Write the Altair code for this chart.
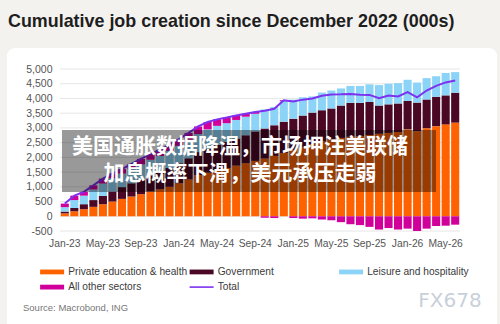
import altair as alt
import pandas as pd

FONT = "Liberation Sans"
CJK = "Noto Sans CJK SC"

# Monthly categories, Jan-23 .. Jun-26
months = [d.strftime("%b-%y") for d in pd.date_range("2023-01-01", periods=42, freq="MS")]
tick_months = months[::4]

# Cumulative change since Dec-2022, thousands
edu = [100, 170, 240, 320, 410, 500, 590, 670, 750, 840, 920, 1000, 1120, 1250,
       1400, 1480, 1560, 1640, 1720, 1800, 1880, 1960, 2050, 2150, 2250, 2350, 2450, 2540,
       2610, 2660, 2700, 2720, 2760, 2800, 2830, 2860, 2950, 2890, 2990, 3060, 3120, 3180]
gov = [60, 110, 170, 230, 280, 340, 400, 450, 500, 550, 600, 640, 680, 720,
       780, 820, 860, 890, 920, 950, 1000, 1020, 1040, 1060, 1060, 1070, 1070, 1060,
       1050, 1100, 1150, 1130, 1120, 960, 970, 970, 965, 970, 975, 995, 985, 1015]
leisure = [150, 270, 290, 360, 420, 450, 460, 490, 510, 530, 530, 580, 590, 630,
           610, 650, 650, 630, 630, 630, 600, 650, 620, 700, 650, 620, 550, 600,
           610, 580, 575, 575, 600, 695, 700, 690, 720, 680, 725, 700, 760, 700]
other = [120, 150, 130, 140, 170, 160, 150, 170, 190, 200, 200, 210, 230, 230,
         260, 250, 220, 190, 150, 100, 60, -50, -60, 30, -60, -80, -70, -110,
         -135, -200, -270, -300, -360, -450, -400, -450, -420, -500, -420, -330, -320, -285]
total = [430, 700, 830, 1050, 1280, 1450, 1600, 1780, 1950, 2120, 2250, 2430, 2620, 2830,
         3050, 3200, 3290, 3350, 3420, 3480, 3540, 3580, 3650, 3940, 3900, 3960, 4000, 4090,
         4135, 4140, 4155, 4125, 4120, 4005, 4100, 4070, 4215, 4040, 4270, 4425, 4545, 4610]

series = ["Private education & health", "Government", "Leisure and hospitality",
          "All other sectors", "Total"]
colors = ["#ff6200", "#4b0824", "#8cd4f7", "#d2009b", "#7d32f0"]
swatches = ["M-3,-0.6H3V0.6H-3Z"] * 4 + ["M-3,-0.2H3V0.2H-3Z"]
y_ticks = list(range(-500, 5001, 500))

title_text = "Cumulative job creation since December 2022 (000s)"
banner_lines = ["美国通胀数据降温，市场押注美联储", "加息概率下滑，美元承压走弱"]
source_text = "Source: Macrobond, ING"
mark_text = "FX678"

bar_df = pd.concat([
    pd.DataFrame({"month": months, "series": s, "value": v, "rank": i})
    for i, (s, v) in enumerate(zip(series[:4], [edu, gov, leisure, other]))
])
line_df = pd.DataFrame({"month": months, "series": series[4], "value": total})
grid_df = pd.DataFrame({"value": y_ticks})

color_scale = alt.Scale(domain=series, range=colors)
legend = alt.Legend(title=None, orient="none", legendX=-13, legendY=197.5, columns=3,
                    direction="horizontal", gridAlign="all", columnPadding=1.5, rowPadding=4.5,
                    padding=0, symbolSize=64, symbolStrokeWidth=0, symbolOpacity=1,
                    labelOffset=11, labelFont=FONT, labelFontSize=10.2, labelColor="#3a3a3a")

x_enc = alt.X("month:O", sort=months,
              scale=alt.Scale(domain=months, paddingInner=0.15, paddingOuter=0.08),
              axis=alt.Axis(values=tick_months, labelAngle=0, title=None, domain=False,
                            ticks=False, labelPadding=7, labelFont=FONT, labelFontSize=10.3,
                            labelColor="#555555", zindex=1))
y_axis = alt.Axis(values=y_ticks, grid=False, domain=False, ticks=False,
                  labelPadding=8, title=None, zindex=1, labelFont=FONT, labelFontSize=10.5,
                  labelColor="#555555",
                  labelExpr="replace(format(datum.value, ','), '\u2212', '-')")
y_scale = alt.Scale(domain=[-500, 5000], nice=False)

one = pd.DataFrame({"k": [0]})

card = alt.Chart(one).mark_rect(color="white", cornerRadius=8).encode(
    x=alt.value(-53), x2=alt.value(437), y=alt.value(-21), y2=alt.value(270))

grid = alt.Chart(grid_df).mark_rule(color="#e6e6e6", strokeWidth=1).encode(
    y=alt.Y("value:Q", scale=y_scale, axis=y_axis), x=alt.value(0), x2=alt.value(400))

bars = alt.Chart(bar_df).mark_bar().encode(
    x=x_enc,
    y=alt.Y("value:Q", stack="zero", scale=y_scale, axis=y_axis),
    color=alt.Color("series:N", scale=color_scale, legend=legend),
    order=alt.Order("rank:Q"))

line = alt.Chart(line_df).mark_line(strokeWidth=2).encode(
    x=x_enc,
    y=alt.Y("value:Q", stack=None, scale=y_scale, axis=y_axis),
    color=alt.Color("series:N", scale=color_scale, legend=legend))

keys = alt.Chart(pd.DataFrame({"series": series})).mark_point(filled=True, opacity=1).encode(
    x=alt.value(-3000), y=alt.value(-3000),
    color=alt.Color("series:N", scale=color_scale, legend=legend),
    shape=alt.Shape("series:N", scale=alt.Scale(domain=series, range=swatches), legend=legend))

banner = alt.Chart(one).mark_rect(color="black", opacity=0.4).encode(
    x=alt.value(2), x2=alt.value(376), y=alt.value(61), y2=alt.value(123))


def banner_row(text, ypos):
    return alt.Chart(pd.DataFrame({"t": [text]})).mark_text(
        font=CJK, fontSize=21, fontWeight="bold", color="white", align="center",
        baseline="middle").encode(text="t:N", x=alt.value(180), y=alt.value(ypos))


banner_1 = banner_row(banner_lines[0], 78)
banner_2 = banner_row(banner_lines[1], 105)

title = alt.Chart(pd.DataFrame({"t": [title_text]})).mark_text(
    font=FONT, fontSize=17.9, fontWeight="bold", color="#1e1e1e", align="left",
    baseline="alphabetic").encode(text="t:N", x=alt.value(-52), y=alt.value(-42))

source = alt.Chart(pd.DataFrame({"t": [source_text]})).mark_text(
    font=FONT, fontSize=9.5, color="#777777", align="left", baseline="middle").encode(
    text="t:N", x=alt.value(-37), y=alt.value(239))

wm = alt.Chart(pd.DataFrame({"t": [mark_text]})).mark_text(
    font="DejaVu Sans", fontSize=20, color="#c8d0da", align="center",
    baseline="middle").encode(text="t:N", x=alt.value(390), y=alt.value(232))

chart = alt.layer(card, grid, bars, line, keys, banner, banner_1, banner_2,
                  title, source, wm).properties(
    width=400, height=162,
    padding={"left": 60, "top": 69, "right": 40, "bottom": 93},
    autosize=alt.AutoSizeParams(type="none"),
    background="#f4f2ef",
).configure_view(stroke=None)

chart.save("out.html", embed_options={"renderer": "svg", "actions": False})
